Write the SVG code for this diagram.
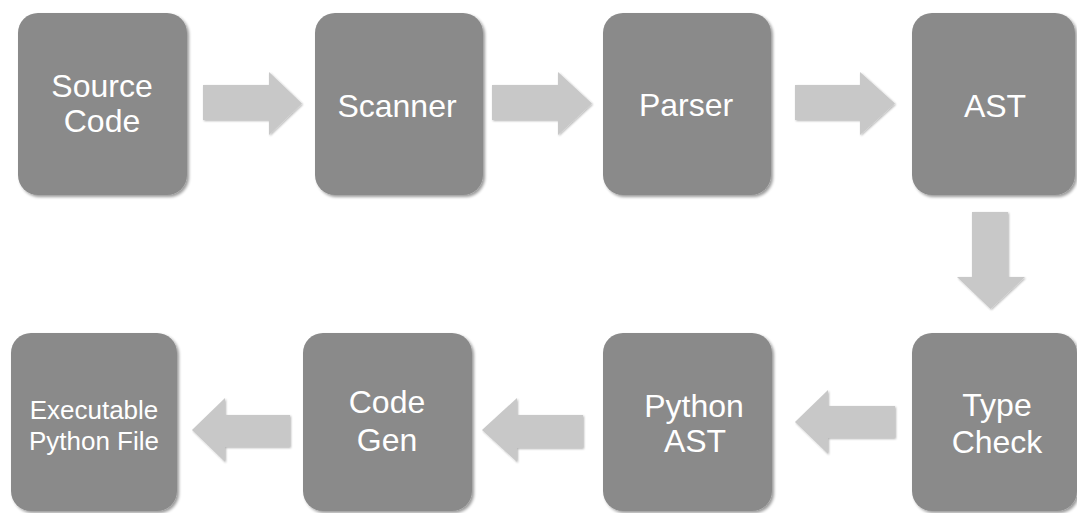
<svg xmlns="http://www.w3.org/2000/svg" width="1077" height="513" viewBox="0 0 1077 513">
<style>
.box{fill:#8a8a8a;filter:url(#sh)}
.arr{fill:#c8c8c8;filter:url(#sh2)}
.t{fill:#ffffff;font-family:"Liberation Sans",Arial,Helvetica,sans-serif;font-size:32px;text-anchor:middle}
.ts{font-size:26px}
</style>
<defs>
<filter id="sh" x="-10%" y="-10%" width="125%" height="125%">
<feGaussianBlur in="SourceAlpha" stdDeviation="1.5"/>
<feOffset dx="2" dy="2" result="b"/>
<feComponentTransfer><feFuncA type="linear" slope="0.4"/></feComponentTransfer>
<feMerge><feMergeNode/><feMergeNode in="SourceGraphic"/></feMerge>
</filter>
<filter id="sh2" x="-10%" y="-10%" width="125%" height="125%">
<feGaussianBlur in="SourceAlpha" stdDeviation="1"/>
<feOffset dx="1" dy="1" result="b"/>
<feComponentTransfer><feFuncA type="linear" slope="0.3"/></feComponentTransfer>
<feMerge><feMergeNode/><feMergeNode in="SourceGraphic"/></feMerge>
</filter>
</defs>
<rect width="1077" height="513" fill="#ffffff"/>
<g id="connectors">
<polygon class="arr" points="203,85 269,85 269,72 302,103.5 269,135 269,120 203,120"/>
<polygon class="arr" points="492,85 558,85 558,72 592,103.5 558,135 558,120 492,120"/>
<polygon class="arr" points="795,85 860,85 860,72 895,103.5 860,135 860,120 795,120"/>
<polygon class="arr" points="972,212 1008,212 1008,277 1025,277 990.5,309 957,277 972,277"/>
<polygon class="arr" points="895,406 828,406 828,390 795,422 828,454 828,438 895,438"/>
<polygon class="arr" points="583,415 517,415 517,398 482,430 517,462 517,448 583,448"/>
<polygon class="arr" points="290,415 225,415 225,398 192,430 225,462 225,447 290,447"/>
</g>
<g id="source-code">
<rect class="box" x="18" y="13" width="169" height="182" rx="20"/>
<text class="t" x="102" y="97">Source</text>
<text class="t" x="102" y="132">Code</text>
</g>
<g id="scanner">
<rect class="box" x="315" y="13" width="168" height="182" rx="20"/>
<text class="t" x="397" y="117">Scanner</text>
</g>
<g id="parser">
<rect class="box" x="603" y="13" width="168" height="182" rx="20"/>
<text class="t" x="686" y="116">Parser</text>
</g>
<g id="ast">
<rect class="box" x="912" y="13" width="163" height="182" rx="20"/>
<text class="t" x="995" y="117">AST</text>
</g>
<g id="type-check">
<rect class="box" x="912" y="333" width="165" height="178" rx="20"/>
<text class="t" x="997" y="416">Type</text>
<text class="t" x="997" y="453">Check</text>
</g>
<g id="python-ast">
<rect class="box" x="603" y="333" width="169" height="178" rx="20"/>
<text class="t" x="694" y="417">Python</text>
<text class="t" x="695" y="452">AST</text>
</g>
<g id="code-gen">
<rect class="box" x="303" y="333" width="169" height="178" rx="20"/>
<text class="t" x="387" y="413">Code</text>
<text class="t" x="387" y="451">Gen</text>
</g>
<g id="executable">
<rect class="box" x="11" y="333" width="166" height="178" rx="20"/>
<text class="t ts" x="94" y="419">Executable</text>
<text class="t ts" x="94" y="450">Python File</text>
</g>
</svg>
